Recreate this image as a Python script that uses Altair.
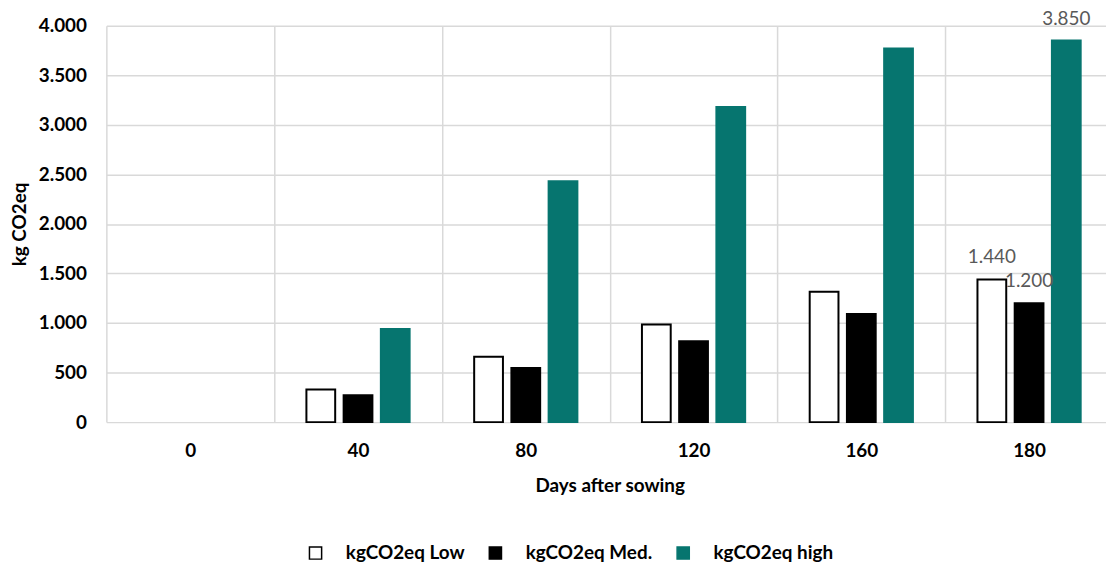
import altair as alt
import pandas as pd

# ---- data ----
days = ["0", "40", "80", "120", "160", "180"]
series = ["kgCO2eq Low", "kgCO2eq Med.", "kgCO2eq high"]
low_vals = [0, 330, 660, 985, 1315, 1440]
med_vals = [0, 270, 545, 815, 1090, 1200]
high_vals = [0, 940, 2430, 3180, 3770, 3850]
label_days = ["180"]
y_ticks = [0, 500, 1000, 1500, 2000, 2500, 3000, 3500, 4000]

fill_colors = ["#FFFFFF", "#000000", "#06756F"]
stroke_colors = ["#000000", "#000000", "#06756F"]

rows = []
for i, d in enumerate(days):
    for s, vals in zip(series, [low_vals, med_vals, high_vals]):
        rows.append({"day": d, "series": s, "value": vals[i]})
df = pd.DataFrame(rows)

FONT = "Lato"
EU_FMT = "replace(format(datum.value, ','), ',', '.')"

legend = alt.Legend(
    title=None,
    orient="none",
    direction="horizontal",
    legendX=201,
    legendY=521,
    symbolType="square",
    symbolSize=150,
    symbolStrokeWidth=1.5,
    labelFont=FONT,
    labelFontSize=19,
    labelFontWeight="bold",
    labelColor="#000000",
    labelOffset=21,
    columnPadding=21,
)

base = alt.Chart(df).encode(
    x=alt.X(
        "day:N",
        sort=days,
        scale=alt.Scale(domain=days, range=[0, 1013], paddingInner=0, paddingOuter=0),
        axis=alt.Axis(
            title="Days after sowing",
            labelAngle=0,
            ticks=False,
            domain=False,
            grid=True,
            tickBand="extent",
            labelPadding=20,
            titlePadding=16,
        ),
    ),
    xOffset=alt.XOffset(
        "series:N",
        sort=series,
        scale=alt.Scale(domain=series, paddingInner=0.227, paddingOuter=0.867),
    ),
    y=alt.Y(
        "value:Q",
        scale=alt.Scale(domain=[0, 4000], nice=False),
        axis=alt.Axis(
            title="kg CO2eq",
            values=y_ticks,
            labelExpr=EU_FMT,
            ticks=False,
            domain=False,
            labelPadding=20,
            titlePadding=9,
        ),
    ),
)

bars = base.mark_bar(strokeWidth=2).encode(
    fill=alt.Fill("series:N", sort=series,
                  scale=alt.Scale(domain=series, range=fill_colors), legend=legend),
    stroke=alt.Stroke("series:N", sort=series,
                      scale=alt.Scale(domain=series, range=stroke_colors), legend=legend),
    strokeOpacity=alt.condition("datum.value > 0", alt.value(1), alt.value(0)),
)

labels = base.transform_filter(
    alt.FieldOneOfPredicate(field="day", oneOf=label_days)
).transform_calculate(
    label=EU_FMT
).mark_text(
    baseline="alphabetic", dy=-16, font=FONT, fontSize=19, color="#595959"
).encode(text="label:N")

chart = alt.layer(bars, labels).properties(
    width=1006,
    height=399,
    autosize=alt.AutoSizeParams(type="none"),
    padding={"left": 99, "top": 16, "right": 0, "bottom": 139},
).configure_axis(
    gridColor="#D9D9D9",
    gridWidth=1.5,
    labelFont=FONT,
    labelFontSize=19,
    labelFontWeight="bold",
    labelColor="#000000",
    titleFont=FONT,
    titleFontSize=19,
    titleFontWeight="bold",
    titleColor="#000000",
).configure_view(stroke=None)

chart.save("out.html", embed_options={"renderer": "svg", "actions": False})
